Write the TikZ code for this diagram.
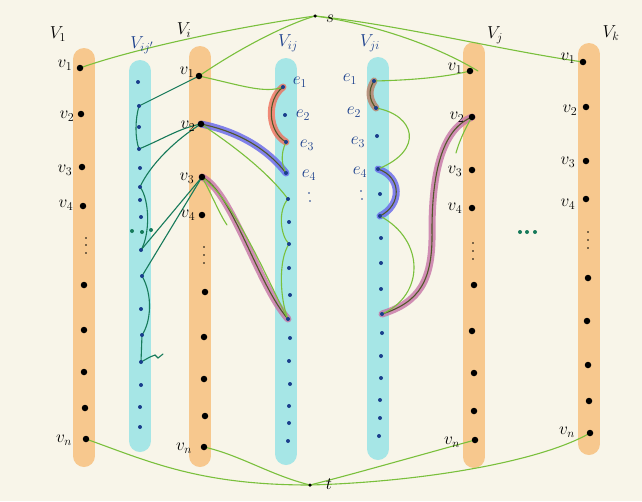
\documentclass[tikz,border=0pt]{standalone}
\definecolor{bgc}{RGB}{248,245,233}
\definecolor{obar}{RGB}{247,200,142}
\definecolor{cbar}{RGB}{166,230,230}
\definecolor{lgreen}{RGB}{122,192,60}
\definecolor{tealg}{RGB}{22,122,90}
\definecolor{navy}{RGB}{25,62,140}
\definecolor{olivel}{RGB}{80,88,40}
\definecolor{hred}{RGB}{238,110,90}
\definecolor{hblue}{RGB}{100,100,235}
\definecolor{hpurp}{RGB}{198,116,166}
\definecolor{hbrown}{RGB}{185,125,100}
\tikzset{
  obarst/.style={line width=22pt,line cap=round,obar},
  cbarst/.style={line width=22pt,line cap=round,cbar},
  bdot/.style={circle,fill=black,inner sep=0pt,minimum size=6.5pt},
  ndot/.style={circle,fill=navy,inner sep=0pt,minimum size=4pt},
  sdot/.style={circle,fill=black,inner sep=0pt,minimum size=1.8pt},
  sndot/.style={circle,fill=navy,inner sep=0pt,minimum size=1.8pt},
  gdot/.style={circle,fill=tealg,inner sep=0pt,minimum size=4pt},
  lg/.style={lgreen,line width=1.1pt,line cap=round},
  tg/.style={tealg,line width=1.1pt,line cap=round},
  hl/.style={line width=7pt,line cap=round,opacity=0.8},
  ol/.style={olivel,line width=1.1pt,line cap=round},
  biglab/.style={inner sep=0pt,font=\LARGE},
  vlab/.style={inner sep=0pt,font=\LARGE},
  elab/.style={inner sep=0pt,font=\LARGE,text=navy},
}
\newcommand\hlpath[2]{\draw[hl,#1] #2; \draw[ol] #2;}
\begin{document}
\begin{tikzpicture}[x=1pt,y=-1pt]
\fill[bgc] (0,0) rectangle (642,501);
\useasboundingbox (0,0) rectangle (642,501);
% bars
\draw[obarst] (84,59) -- (84,456);
\draw[cbarst] (140,71) -- (140,441);
\draw[obarst] (200,57) -- (200,456);
\draw[cbarst] (286,69) -- (286,454);
\draw[cbarst] (378,68) -- (378,449);
\draw[obarst] (474,53) -- (474,457);
\draw[obarst] (589,54) -- (589,444);
% coordinates
\foreach \n/\x/\y in {1/80/68,2/81/114,3/82/167,4/83/206,5/84/285,6/84/330,7/84/372,8/85/408,n/86/439}
  \coordinate (a\n) at (\x,\y);
\foreach \n/\x/\y in {1/138/82,2/139/106,3/139/127,4/139/149,5/140/168,6/140/187,7/140/200,8/141/217,9/141/250,10/142/276,11/141/309,12/142/335,13/141/362,14/141/385,15/140/407,16/140/427}
  \coordinate (p\n) at (\x,\y);
\foreach \n/\x/\y in {1/199/76,2/201/124,3/202/177,4/202/215,5/205/292,6/204/337,7/204/379,8/205/416,n/204/447}
  \coordinate (b\n) at (\x,\y);
\foreach \n/\x/\y in {1/283/87,2/285/115,3/286/142,4/286/173,5/288/199,6/289/222,7/289/244,8/289/268,9/290/295,10/288/319,11/290/338,12/289/361,13/290/384,14/289/406,15/289/423,16/288/441}
  \coordinate (c\n) at (\x,\y);
\foreach \n/\x/\y in {1/374/81,2/376/108,3/377/136,4/378/169,5/380/194,6/380/216,7/381/238,8/381/263,9/381/289,10/382/314,11/382/333,12/381/356,13/381/378,14/380/400,15/380/418,16/379/436}
  \coordinate (d\n) at (\x,\y);
\foreach \n/\x/\y in {1/470/71,2/472/117,3/472/170,4/472/208,5/474/285,6/472/331,7/474/373,8/474/411,n/475/440}
  \coordinate (f\n) at (\x,\y);
\foreach \n/\x/\y in {1/583/62,2/586/107,3/586/161,4/586/199,5/588/278,6/587/321,7/588/365,8/589/401,n/590/433}
  \coordinate (g\n) at (\x,\y);
\coordinate (s) at (315,16);
\coordinate (t) at (310,485);
\coordinate (b3x) at (227,225);
\coordinate (f2x) at (456,153);
\coordinate (f1x) at (478,71);
\coordinate (fm) at (432,230);
% highlighted paths
\hlpath{hred}{(c1) .. controls (266,100) and (268,132) .. (c3)}
\hlpath{hblue}{(b2) .. controls (240,132) and (268,150) .. (c4)}
\hlpath{hpurp}{(b3) .. controls (232,192) and (258,285) .. (c10)}
\hlpath{hbrown}{(d1) .. controls (368,90) and (369,100) .. (d2)}
\hlpath{hblue}{(d4) .. controls (402,177) and (402,205) .. (d6)}
\hlpath{hpurp}{(f2) .. controls (445,128) and (432,165) .. (fm) .. controls (433,280) and (420,302) .. (d10)}
% light green paths
\draw[lg] (a1) .. controls (130,50) and (230,28) .. (s);
\draw[lg] (b1) .. controls (240,48) and (285,25) .. (s);
\draw[lg] (s) .. controls (380,25) and (440,48) .. (f1x);
\draw[lg] (s) .. controls (400,25) and (500,50) .. (g1);
\draw[lg] (b1) .. controls (240,85) and (265,94) .. (c1);
\draw[lg] (d1) .. controls (420,80) and (450,76) .. (f1);
\draw[lg] (c3) .. controls (280,155) and (282,165) .. (c4);
\draw[lg] (b2) .. controls (240,150) and (270,175) .. (c5);
\draw[lg] (c5) .. controls (278,210) and (280,235) .. (c7) .. controls (278,260) and (280,300) .. (c10);
\draw[lg] (b3) .. controls (235,200) and (272,290) .. (c10);
\draw[lg] (b3) .. controls (212,195) and (220,215) .. (b3x);
\draw[lg] (d2) .. controls (415,115) and (425,150) .. (d4);
\draw[lg] (d6) .. controls (425,240) and (425,295) .. (d10);
\draw[lg] (f2) .. controls (464,130) and (458,145) .. (f2x);
\draw[lg] (an) .. controls (150,462) and (200,485) .. (t);
\draw[lg] (bn) .. controls (240,455) and (270,475) .. (t);
\draw[lg] (fn) .. controls (420,455) and (350,475) .. (t);
\draw[lg] (gn) .. controls (540,462) and (420,482) .. (t);
% teal paths
\draw[tg] (b1) -- (p2);
\draw[tg] (p2) .. controls (135,120) and (135,138) .. (p4);
\draw[tg] (p4) .. controls (165,138) and (180,128) .. (b2);
\draw[tg] (b2) .. controls (175,140) and (150,165) .. (p6);
\draw[tg] (p6) .. controls (150,200) and (150,235) .. (p9);
\draw[tg] (b3) -- (p9);
\draw[tg] (b3) -- (p10);
\draw[tg] (p10) .. controls (153,295) and (151,322) .. (p12) -- (p13) -- ++(9,-5) -- ++(5,-2) -- ++(3,3) -- ++(5,-4);
% dots
\foreach \n in {1,...,8,n} \node[bdot] (a\n-d) at (a\n) {};
\foreach \n in {1,...,8,n} \node[bdot] (b\n-d) at (b\n) {};
\foreach \n in {1,...,8,n} \node[bdot] (f\n-d) at (f\n) {};
\foreach \n in {1,...,8,n} \node[bdot] (g\n-d) at (g\n) {};
\foreach \n in {1,...,16} \node[ndot] (p\n-d) at (p\n) {};
\foreach \n in {1,...,16} \node[ndot] (c\n-d) at (c\n) {};
\foreach \n in {1,...,16} \node[ndot] (d\n-d) at (d\n) {};
\foreach \k/\x/\y in {1/86/238,2/86/245,3/86/253,4/204/247,5/204/255,6/204/263,7/473/243,8/473/251,9/473/259,10/588/232,11/588/240,12/588/248}
  \node[sdot] (sm\k) at (\x,\y) {};
\foreach \k/\x/\y in {1/309/193,2/310/201,3/361/191,4/362/199}
  \node[sndot] (sn\k) at (\x,\y) {};
\foreach \k/\x/\y in {1/132/231,2/142/232,3/151/230,4/520/232,5/527/232,6/535/232}
  \node[gdot] (gd\k) at (\x,\y) {};
\node[sdot,minimum size=3.5pt] (s-d) at (s) {};
\node[sdot,minimum size=3.5pt] (t-d) at (t) {};
% labels
\node[biglab] (LV1) at (58,34) {$V_1$};
\node[biglab,text=navy] (LVijp) at (142,45) {$V_{ij'}$};
\node[biglab] (LVi) at (184,30) {$V_i$};
\node[biglab,text=navy] (LVij) at (288,43) {$V_{ij}$};
\node[biglab,text=navy] (LVji) at (370,43) {$V_{ji}$};
\node[biglab] (LVj) at (495,35) {$V_j$};
\node[biglab] (LVk) at (611,33) {$V_k$};
\node[biglab] (Ls) at (330,19) {$s$};
\node[biglab] (Lt) at (329,484) {$t$};
\foreach \n/\x/\y in {1/65/65,2/67/116,3/65/170,4/66/205,n/64/440}
  \node[vlab] (la\n) at (\x,\y) {$v_\n$};
\foreach \n/\x/\y in {1/187/72,2/188/126,3/187/178,4/188/215,n/184/448}
  \node[vlab] (lb\n) at (\x,\y) {$v_\n$};
\foreach \n/\x/\y in {1/455/68,2/457/117,3/455/171,4/455/208,n/452/442}
  \node[vlab] (lf\n) at (\x,\y) {$v_\n$};
\foreach \n/\x/\y in {1/568/58,2/570/110,3/568/162,4/568/204,n/567/432}
  \node[vlab] (lg\n) at (\x,\y) {$v_\n$};
\foreach \n/\x/\y in {1/300/82,2/303/115,3/307/145,4/309/175}
  \node[elab] (lc\n) at (\x,\y) {$e_\n$};
\foreach \n/\x/\y in {1/350/79,2/354/112,3/358/142,4/360/172}
  \node[elab] (ld\n) at (\x,\y) {$e_\n$};
\end{tikzpicture}
\end{document}
